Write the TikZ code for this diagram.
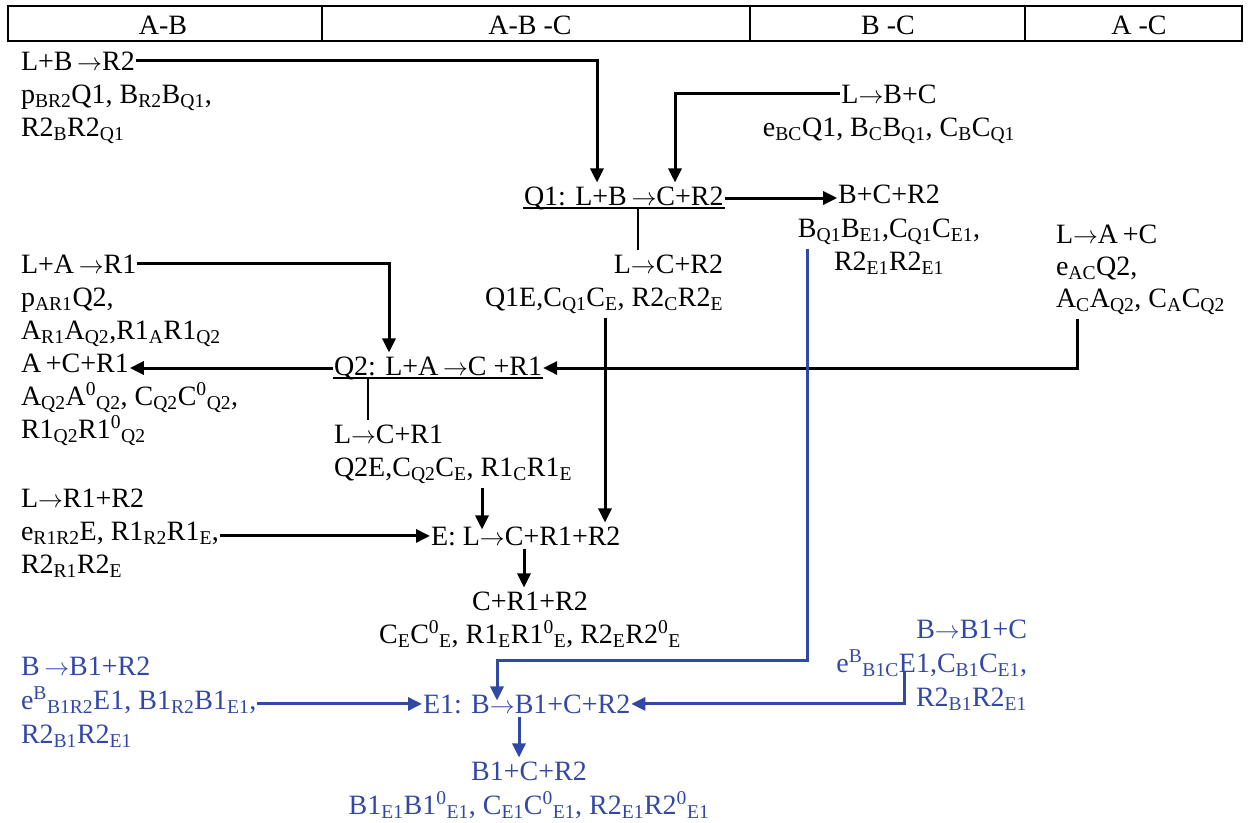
\documentclass[tikz,border=0pt]{standalone}
\usepackage{fontspec}
\setmainfont{Liberation Serif}
\usetikzlibrary{arrows.meta}
\definecolor{bl}{RGB}{50,72,165}
\newcommand\mysb[1]{\textsubscript{#1}}
\newcommand\mysp[1]{\textsuperscript{#1}}
\newcommand\myar{\ensuremath{\rightarrow}}
\begin{document}
\begin{tikzpicture}[x=1pt,y=-1pt,
  txt/.style={inner xsep=1pt, inner ysep=4pt, outer sep=0pt, font=\fontsize{28}{33}\selectfont},
  tl/.style={txt, anchor=base west},
  tc/.style={txt, anchor=base},
  tr/.style={txt, anchor=base east},
  btxt/.style={text=bl},
  arr/.style={line width=3pt, -{Triangle[length=14pt,width=13pt]}},
  arrB/.style={arr, draw=bl},
  stem/.style={line width=1.3pt},
  hdline/.style={line width=1.5pt}]
\useasboundingbox (0,0) rectangle (1250,822);
% header table
\draw[hdline] (8,6) rectangle (1242,41);
\draw[hdline] (322,6) -- (322,41);
\draw[hdline] (750,6) -- (750,41);
\draw[hdline] (1025,6) -- (1025,41);
\node[tc] (hAB) at (163,34) {A-B};
\node[tc] (hABC) at (530,34) {A-B -C};
\node[tc] (hBC) at (888,34) {B -C};
\node[tc] (hAC) at (1139,34) {A -C};
% L+B -> R2
\node[tl] (LB1) at (20,70) {L+B\,\myar R2};
\node[tl] (LB2) at (20,103) {p\mysb{BR2}Q1, B\mysb{R2}B\mysb{Q1},};
\node[tl] (LB3) at (20,136) {R2\mysb{B}R2\mysb{Q1}};
% L -> B+C
\node[tc] (LBC1) at (889,103) {L\myar B+C};
\node[tc] (LBC2) at (889,136) {e\mysb{BC}Q1, B\mysb{C}B\mysb{Q1}, C\mysb{B}C\mysb{Q1}};
% Q1
\node[tl] (Q1) at (523,205) {Q1: L+B\,\myar C+R2};
\coordinate (q1ul) at ([yshift=-3pt]Q1.base west);
\draw[stem] (q1ul) -- ([yshift=-3pt]Q1.base east);
% B+C+R2
\node[tc] (BCR2a) at (889,203) {B+C+R2};
\node[tc] (BCR2b) at (889,237) {B\mysb{Q1}B\mysb{E1},C\mysb{Q1}C\mysb{E1},};
\node[tc] (BCR2c) at (889,270) {R2\mysb{E1}R2\mysb{E1}};
% L -> C+R2
\node[tr] (LCR2a) at (724,273) {L\myar C+R2};
\node[tr] (LCR2b) at (724,306) {Q1E,C\mysb{Q1}C\mysb{E}, R2\mysb{C}R2\mysb{E}};
% L+A -> R1
\node[tl] (LAR1a) at (20,273) {L+A\,\myar R1};
\node[tl] (LAR1b) at (20,306) {p\mysb{AR1}Q2,};
\node[tl] (LAR1c) at (20,339) {A\mysb{R1}A\mysb{Q2},R1\mysb{A}R1\mysb{Q2}};
% A+C+R1
\node[tl] (ACR1a) at (20,372) {A\,+C+R1};
\node[tl] (ACR1b) at (20,405) {A\mysb{Q2}A\mysp{0}\mysb{Q2}, C\mysb{Q2}C\mysp{0}\mysb{Q2},};
\node[tl] (ACR1c) at (20,438) {R1\mysb{Q2}R1\mysp{0}\mysb{Q2}};
% Q2
\node[tl] (Q2) at (333,375) {Q2: L+A\,\myar C +R1};
\coordinate (q2ul) at ([yshift=-3pt]Q2.base west);
\draw[stem] (q2ul) -- ([yshift=-3pt]Q2.base east);
% L -> A+C
\node[tl] (LACa) at (1055,243) {L\myar A\,+C};
\node[tl] (LACb) at (1055,275) {e\mysb{AC}Q2,};
\node[tl] (LACc) at (1055,307) {A\mysb{C}A\mysb{Q2}, C\mysb{A}C\mysb{Q2}};
% L -> C+R1
\node[tl] (LCR1a) at (333,443) {L\myar C+R1};
\node[tl] (LCR1b) at (333,476) {Q2E,C\mysb{Q2}C\mysb{E}, R1\mysb{C}R1\mysb{E}};
% L -> R1+R2
\node[tl] (LR1R2a) at (20,507) {L\myar R1+R2};
\node[tl] (LR1R2b) at (20,540) {e\mysb{R1R2}E, R1\mysb{R2}R1\mysb{E},};
\node[tl] (LR1R2c) at (20,573) {R2\mysb{R1}R2\mysb{E}};
% E
\node[tl] (E) at (430,545) {E: L\myar C+R1+R2};
% C+R1+R2
\node[tc] (CR1R2a) at (530,610) {C+R1+R2};
\node[tc] (CR1R2b) at (530,643) {C\mysb{E}C\mysp{0}\mysb{E}, R1\mysb{E}R1\mysp{0}\mysb{E}, R2\mysb{E}R2\mysp{0}\mysb{E}};
% blue part
\node[tl,btxt] (BB1R2a) at (20,675) {B\,\myar B1+R2};
\node[tl,btxt] (BB1R2b) at (20,709) {e\mysp{B}\mysb{B1R2}E1, B1\mysb{R2}B1\mysb{E1},};
\node[tl,btxt] (BB1R2c) at (20,743) {R2\mysb{B1}R2\mysb{E1}};
\node[tl,btxt] (E1) at (422,713) {E1: B\myar B1+C+R2};
\node[tc,btxt] (B1CR2a) at (529,780) {B1+C+R2};
\node[tc,btxt] (B1CR2b) at (529,814) {B1\mysb{E1}B1\mysp{0}\mysb{E1}, C\mysb{E1}C\mysp{0}\mysb{E1}, R2\mysb{E1}R2\mysp{0}\mysb{E1}};
\node[tr,btxt] (BB1Ca) at (1028,638) {B\myar B1+C};
\node[tr,btxt] (BB1Cb) at (1028,672) {e\mysp{B}\mysb{B1C}E1,C\mysb{B1}C\mysb{E1},};
\node[tr,btxt] (BB1Cc) at (1028,706) {R2\mysb{B1}R2\mysb{E1}};
% connectors
\draw[arr] (LB1.east) -| (Q1.north -| 597,0);
\draw[arr] (LBC1.west) -| (Q1.north -| 675,0);
\draw[arr] (Q1.east) -- (Q1.east -| BCR2a.west);
\draw[stem] (q1ul -| 638,0) -- (LCR2a.north -| 638,0);
\draw[arr] (LCR2b.south -| 605,0) -- (E.north -| 605,0);
\draw[arr] (LAR1a.east) -| (Q2.north -| 389,0);
\draw[arr] (Q2.west) -- (Q2.west -| ACR1a.east);
\draw[arr] (LACc.south -| 1077,0) |- (Q2.east);
\draw[line width=2.2pt] (q2ul -| 368,0) -- (LCR1a.north -| 368,0);
\draw[arr, shorten >=-7pt] (LCR1b.south -| 482,0) -- (E.north -| 482,0);
\draw[arr] (LR1R2b.east |- E.west) -- (E.west);
\draw[arr] (E.south -| 524,0) -- (CR1R2a.north -| 524,0);
\draw[arrB, shorten >=-10pt] (BCR2b.south -| 807,0) -- (807,660) -| (E1.north -| 497,0);
\draw[arrB] (BB1R2b.east |- E1.west) -- (E1.west);
\draw[arrB] (BB1Cb.base -| 904,0) |- (E1.east);
\draw[arrB] (E1.south -| 519,0) -- (B1CR2a.north -| 519,0);
\end{tikzpicture}
\end{document}
